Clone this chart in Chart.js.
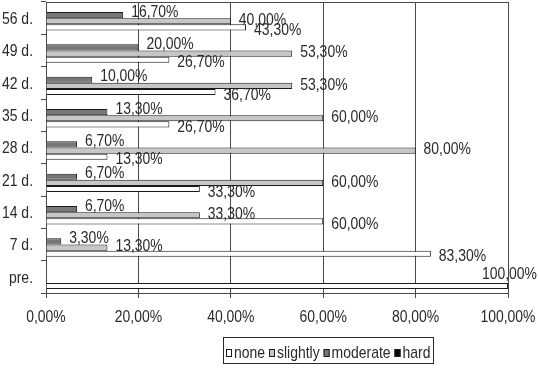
<!DOCTYPE html>
<html>
<head>
<meta charset="utf-8">
<script src="https://cdn.jsdelivr.net/npm/chart.js@4.4.1/dist/chart.umd.min.js"></script>
<style>
  body { margin: 0; background: #fff; }
</style>
</head>
<body>
<canvas id="bar-chart" width="538" height="371"></canvas>
<script>
var days = ['56 d.', '49 d.', '42 d.', '35 d.', '28 d.', '21 d.', '14 d.', '7 d.', 'pre.'];
var none = [43.3, 26.7, 36.7, 26.7, 13.3, 33.3, 60, 83.3, 100];
var slightly = [40, 53.3, 53.3, 60, 80, 60, 33.3, 13.3, 0];
var moderate = [16.7, 20, 10, 13.3, 6.7, 6.7, 6.7, 3.3, 0];
var hard = [0, 0, 0, 0, 0, 0, 0, 0, 0];
var xMin = 0, xMax = 100, xStep = 20;

var fontFamily = "'Liberation Sans', Arial, sans-serif";
var font = '17px ' + fontFamily;
var squeeze = 0.82; // the original uses a narrow face
var textColor = '#2a2a2a';
var lineColor = '#4a4a4a';

function pct(v) {
  return v.toFixed(2).replace('.', ',') + '%';
}

function textWidth(ctx, text) {
  return ctx.measureText(text).width * squeeze;
}

// draw text squeezed sideways, x is the left edge
function narrowText(ctx, text, x, y) {
  ctx.save();
  ctx.translate(x, y);
  ctx.scale(squeeze, 1);
  ctx.textAlign = 'left';
  ctx.fillText(text, 0, 0);
  ctx.restore();
}

// tick labels for both axes
const axisLabels = {
  id: 'axisLabels',
  afterDraw: (chart) => {
    const {ctx} = chart;
    const xs = chart.scales.x, ys = chart.scales.y;
    ctx.save();
    ctx.font = font;
    ctx.fillStyle = textColor;
    ctx.textBaseline = 'middle';
    xs.ticks.forEach((t, i) => {
      const text = pct(t.value);
      const w = textWidth(ctx, text);
      narrowText(ctx, text, xs.getPixelForTick(i) - w / 2, xs.top + 24);
    });
    ys.ticks.forEach((t, i) => {
      const text = ys.getLabelForValue(t.value);
      const w = textWidth(ctx, text);
      narrowText(ctx, text, ys.right - 13 - w, ys.getPixelForTick(i) + 1);
    });
    ctx.restore();
  }
};

// percentage labels next to the end of each bar
const valueLabels = {
  id: 'valueLabels',
  afterDatasetsDraw: (chart) => {
    const {ctx} = chart;
    ctx.save();
    ctx.font = font;
    ctx.fillStyle = textColor;
    ctx.textBaseline = 'middle';
    chart.data.datasets.forEach((ds, i) => {
      const meta = chart.getDatasetMeta(i);
      meta.data.forEach((bar, j) => {
        const v = ds.data[j];
        if (!v) return;
        const text = pct(v);
        const w = textWidth(ctx, text);
        let x = bar.x + 8;
        let y = bar.y + (ds.labelShift || 0);
        if (x + w > chart.width - 1) {
          x = chart.width - 1 - w;
          y = bar.y - 12;
        }
        narrowText(ctx, text, x, y);
      });
    });
    ctx.restore();
  }
};

// top edge of the plot area
const plotFrame = {
  id: 'plotFrame',
  beforeDatasetsDraw: (chart) => {
    const {ctx, chartArea} = chart;
    ctx.save();
    ctx.strokeStyle = lineColor;
    ctx.lineWidth = 1;
    ctx.beginPath();
    ctx.moveTo(chartArea.left, chartArea.top + 0.5);
    ctx.lineTo(chartArea.right, chartArea.top + 0.5);
    ctx.stroke();
    ctx.restore();
  }
};

// excel style legend in a box, series listed bottom-up
const boxLegend = {
  id: 'boxLegend',
  afterDraw: (chart) => {
    const {ctx, chartArea} = chart;
    const items = chart.data.datasets.slice().reverse();
    const mark = 6, gap = 2, space = 4, pad = 3;
    ctx.save();
    ctx.font = font;
    let total = pad * 2 - space;
    items.forEach(ds => {
      total += mark + gap + textWidth(ctx, ds.label) + space;
    });
    const cx = chartArea.left + (chartArea.right - chartArea.left) * 0.61;
    const top = chartArea.bottom + 44;
    const h = 26;
    let x = Math.round(cx - total / 2);
    ctx.strokeStyle = textColor;
    ctx.lineWidth = 1;
    ctx.strokeRect(x + 0.5, top + 0.5, Math.round(total), h);
    x += pad;
    ctx.textBaseline = 'alphabetic';
    items.forEach(ds => {
      ctx.fillStyle = ds.backgroundColor;
      ctx.fillRect(x, top + 12, mark, 8);
      ctx.strokeStyle = ds.borderColor;
      ctx.strokeRect(x + 0.5, top + 12.5, mark - 1, 7);
      x += mark + gap;
      ctx.fillStyle = textColor;
      narrowText(ctx, ds.label, x, top + 21);
      x += textWidth(ctx, ds.label) + space;
    });
    ctx.restore();
  }
};

var config = {
  type: 'bar',
  data: {
    labels: days,
    datasets: [{
      label: 'hard',
      data: hard,
      backgroundColor: '#000000',
      borderColor: '#1a1a1a',
      borderWidth: 1,
      labelShift: -3
    }, {
      label: 'moderate',
      data: moderate,
      backgroundColor: '#777777',
      borderColor: '#1a1a1a',
      borderWidth: 1,
      labelShift: -3
    }, {
      label: 'slightly',
      data: slightly,
      backgroundColor: '#c6c6c6',
      borderColor: '#1a1a1a',
      borderWidth: 1,
      labelShift: -1
    }, {
      label: 'none',
      data: none,
      backgroundColor: '#ffffff',
      borderColor: '#1a1a1a',
      borderWidth: 1,
      labelShift: 3
    }]
  },
  options: {
    indexAxis: 'y',
    responsive: false,
    animation: false,
    categoryPercentage: 0.76,
    barPercentage: 1,
    layout: {
      padding: { left: 0, right: 30, top: 2, bottom: 0 }
    },
    plugins: {
      legend: { display: false },
      tooltip: { enabled: false }
    },
    scales: {
      x: {
        min: xMin,
        max: xMax,
        afterFit: (scale) => {
          scale.height = 78;
          scale.paddingLeft = 0;
          scale.paddingRight = 0;
        },
        ticks: {
          stepSize: xStep,
          display: false
        },
        grid: {
          color: lineColor,
          tickLength: 5
        },
        border: { color: lineColor }
      },
      y: {
        afterFit: (scale) => {
          scale.width = 46;
          scale.paddingTop = 0;
          scale.paddingBottom = 0;
        },
        ticks: { display: false },
        grid: {
          offset: true,
          drawOnChartArea: false,
          color: lineColor,
          tickLength: 5
        },
        border: { color: lineColor }
      }
    }
  },
  plugins: [plotFrame, valueLabels, axisLabels, boxLegend]
};

window.onload = function() {
  var ctx = document.getElementById('bar-chart').getContext('2d');
  window.myBar = new Chart(ctx, config);
};
</script>
</body>
</html>
